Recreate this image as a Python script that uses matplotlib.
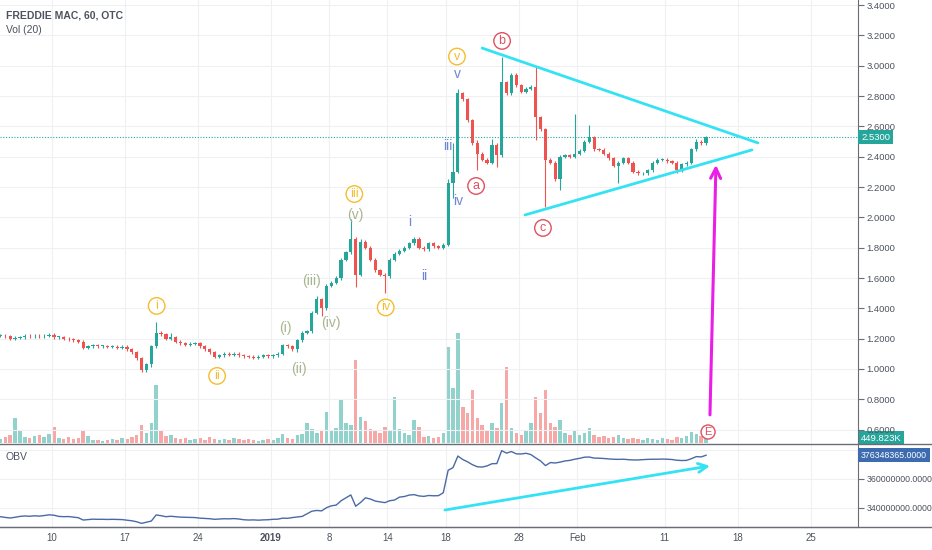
import matplotlib.pyplot as plt
import matplotlib.transforms as mtransforms
from matplotlib.lines import Line2D
import numpy as np

plt.rcParams['font.family'] = ['Liberation Sans', 'DejaVu Sans']

# bars every third of a trading day, day 0 = Dec 10 2018
bar_start = -3.5
bar_step = 1 / 3

closes = [
    1.22, 1.215, 1.20, 1.205, 1.21, 1.22, 1.215, 1.22, 1.215, 1.22,
    1.225, 1.21, 1.21, 1.20, 1.195, 1.19, 1.18, 1.14, 1.15, 1.155,
    1.15, 1.15, 1.145, 1.145, 1.14, 1.145, 1.13, 1.11, 1.07, 0.99,
    1.03, 1.15, 1.24, 1.23, 1.20, 1.21, 1.18, 1.17, 1.16, 1.165,
    1.17, 1.15, 1.13, 1.11, 1.08, 1.09, 1.10, 1.095, 1.10, 1.09,
    1.085, 1.08, 1.075, 1.08, 1.09, 1.085, 1.09, 1.10, 1.155, 1.15,
    1.13, 1.19, 1.24, 1.25, 1.37, 1.46, 1.40, 1.55, 1.57, 1.60,
    1.72, 1.77, 1.86, 1.62, 1.84, 1.80, 1.72, 1.65, 1.62, 1.61,
    1.72, 1.76, 1.78, 1.80, 1.83, 1.86, 1.80, 1.79, 1.83, 1.81,
    1.80, 1.82, 2.23, 2.30, 2.82, 2.78, 2.64, 2.49, 2.42, 2.38,
    2.36, 2.48, 2.41, 2.89, 2.82, 2.94, 2.87, 2.83, 2.85, 2.86,
    2.66, 2.58, 2.38, 2.36, 2.25, 2.40, 2.41, 2.40, 2.42, 2.44,
    2.50, 2.53, 2.45, 2.445, 2.42, 2.39, 2.34, 2.36, 2.39, 2.36,
    2.30, 2.29, 2.29, 2.31, 2.36, 2.38, 2.38, 2.37, 2.36, 2.31,
    2.35, 2.36, 2.45, 2.50, 2.49, 2.53,
]

upper_wick = [
    0.01, 0.01, 0.01, 0.01, 0.01, 0.01, 0.01, 0.01, 0.01, 0.01,
    0.01, 0.01, 0.01, 0.01, 0.01, 0.01, 0.01, 0.01, 0.01, 0.01,
    0.01, 0.01, 0.01, 0.01, 0.01, 0.01, 0.01, 0.01, 0.01, 0.01,
    0.01, 0.01, 0.07, 0.01, 0.01, 0.03, 0.01, 0.01, 0.01, 0.01,
    0.01, 0.01, 0.01, 0.01, 0.01, 0.01, 0.01, 0.01, 0.01, 0.01,
    0.01, 0.01, 0.01, 0.01, 0.01, 0.01, 0.01, 0.01, 0.01, 0.01,
    0.01, 0.01, 0.01, 0.01, 0.01, 0.02, 0.01, 0.01, 0.01, 0.01,
    0.01, 0.01, 0.13, 0.01, 0.02, 0.01, 0.01, 0.01, 0.01, 0.01,
    0.01, 0.01, 0.01, 0.01, 0.01, 0.01, 0.01, 0.01, 0.01, 0.01,
    0.01, 0.01, 0.02, 0.19, 0.03, 0.01, 0.01, 0.01, 0.02, 0.01,
    0.01, 0.04, 0.01, 0.17, 0.01, 0.01, 0.01, 0.01, 0.01, 0.01,
    0.13, 0.01, 0.01, 0.01, 0.01, 0.01, 0.01, 0.01, 0.26, 0.01,
    0.01, 0.08, 0.01, 0.01, 0.01, 0.01, 0.01, 0.01, 0.01, 0.01,
    0.01, 0.01, 0.01, 0.01, 0.01, 0.01, 0.01, 0.01, 0.01, 0.01,
    0.01, 0.01, 0.01, 0.02, 0.01, 0.01,
]

lower_wick = [
    0.01, 0.01, 0.01, 0.01, 0.01, 0.01, 0.01, 0.01, 0.01, 0.01,
    0.01, 0.01, 0.01, 0.01, 0.01, 0.01, 0.01, 0.01, 0.01, 0.01,
    0.01, 0.01, 0.01, 0.01, 0.01, 0.01, 0.01, 0.01, 0.01, 0.01,
    0.01, 0.02, 0.01, 0.01, 0.01, 0.01, 0.01, 0.01, 0.01, 0.01,
    0.01, 0.01, 0.01, 0.01, 0.01, 0.01, 0.01, 0.01, 0.01, 0.01,
    0.01, 0.01, 0.01, 0.01, 0.01, 0.01, 0.01, 0.01, 0.01, 0.01,
    0.01, 0.02, 0.01, 0.01, 0.01, 0.01, 0.05, 0.01, 0.01, 0.01,
    0.01, 0.01, 0.01, 0.08, 0.01, 0.01, 0.01, 0.01, 0.01, 0.11,
    0.01, 0.01, 0.01, 0.01, 0.01, 0.01, 0.01, 0.01, 0.01, 0.01,
    0.01, 0.01, 0.01, 0.10, 0.01, 0.01, 0.01, 0.01, 0.11, 0.01,
    0.01, 0.01, 0.08, 0.01, 0.01, 0.01, 0.01, 0.01, 0.01, 0.01,
    0.15, 0.01, 0.31, 0.01, 0.01, 0.07, 0.01, 0.01, 0.01, 0.01,
    0.01, 0.01, 0.01, 0.01, 0.01, 0.01, 0.01, 0.11, 0.01, 0.01,
    0.01, 0.01, 0.01, 0.01, 0.01, 0.01, 0.01, 0.01, 0.01, 0.02,
    0.01, 0.01, 0.01, 0.01, 0.01, 0.01,
]

# volume in thousands of shares
volume_k = [
    360, 540, 720, 2250, 1080, 540, 450, 630, 720, 540,
    810, 1440, 450, 360, 540, 360, 450, 1170, 630, 270,
    270, 180, 270, 360, 270, 450, 360, 540, 720, 1620,
    900, 1800, 5220, 1080, 630, 720, 450, 360, 450, 270,
    360, 450, 270, 540, 360, 270, 360, 270, 450, 360,
    270, 360, 270, 180, 270, 360, 270, 450, 810, 450,
    360, 720, 810, 1800, 1260, 900, 1080, 2790, 1080, 1350,
    3870, 1800, 1620, 7470, 2340, 1980, 1260, 1080, 900, 1440,
    1080, 4140, 1260, 900, 720, 2070, 1440, 540, 630, 450,
    540, 900, 8640, 4950, 9900, 3240, 2700, 4770, 2250, 1620,
    1080, 1800, 1350, 3600, 6840, 1350, 900, 720, 1080, 1800,
    4140, 2700, 4770, 1800, 1440, 2070, 900, 720, 1080, 720,
    900, 1350, 720, 540, 630, 450, 540, 720, 450, 360,
    450, 360, 270, 450, 360, 270, 450, 360, 270, 540,
    450, 630, 990, 810, 630, 449.823,
]

# on balance volume in millions
obv_m = [
    334.0, 333.5, 333.1, 333.6, 334.2, 334.5, 334.3, 334.6, 334.4, 334.8,
    335.3, 335.0, 334.2, 334.0, 334.1, 333.7, 333.3, 331.7, 332.0, 332.3,
    332.2, 332.2, 332.1, 332.2, 332.1, 332.0, 331.6, 331.2, 330.5, 329.4,
    330.2, 331.0, 335.2, 334.7, 334.0, 334.3, 334.0, 333.7, 333.6, 333.5,
    333.4, 333.0, 332.8, 332.6, 332.2, 332.4, 332.6, 332.5, 332.7, 332.4,
    331.9, 331.7, 331.8, 331.6, 331.8, 331.9, 332.2, 332.3, 333.0, 332.9,
    333.4, 333.8, 334.2, 336.0, 337.8, 338.3, 338.0, 340.2, 341.5, 342.0,
    345.0, 347.0, 349.0, 341.2, 343.8, 347.0, 346.2, 344.8, 344.2, 343.7,
    345.0, 345.5, 347.5, 347.9, 348.9, 349.2, 348.3, 348.0, 348.6, 348.4,
    348.5, 350.5, 366.0, 367.8, 375.8, 373.4, 371.8, 369.8, 368.4, 368.2,
    369.0, 370.5, 370.6, 379.5, 377.8, 378.9, 377.3, 377.2, 377.7, 376.8,
    374.5, 372.4, 369.2, 371.3, 371.0, 371.6, 372.4, 372.8, 373.6, 374.2,
    375.0, 375.1, 374.4, 374.3, 374.1, 373.8, 373.6, 373.5, 373.6, 373.3,
    373.1, 373.1, 373.3, 373.5, 373.6, 373.6, 373.7, 373.6, 373.4, 372.9,
    372.7, 372.8, 374.0, 375.4, 375.2, 376.348365,
]

price_ticks = [0.6, 0.8, 1.0, 1.2, 1.4, 1.6, 1.8, 2.0, 2.2, 2.4, 2.6, 2.8, 3.0, 3.2, 3.4]
obv_ticks = [340, 360]
obv_grid = [340, 360, 380]
date_pos = [0, 5, 10, 15, 19, 23, 27, 32, 36, 42, 47, 52]
date_labels = ['10', '17', '24', '2019', '8', '14', '18', '28', 'Feb', '11', '18', '25']

GREEN = '#26a69a'
RED = '#ef5350'
GRID = '#eef0f4'
TXT = '#4c525e'
AXL = '#6a6d78'
CYAN = '#33e3f3'
MAGENTA = '#ea1ee6'
YELLOW = '#f5bd2e'
OLIVE = '#a7b58f'
BLUE = '#6f86d6'
WRED = '#e0505f'

closes = np.array(closes)
opens = np.r_[closes[0], closes[:-1]]
highs = np.maximum(opens, closes) + np.array(upper_wick)
lows = np.minimum(opens, closes) - np.array(lower_wick)
x = bar_start + bar_step * np.arange(len(closes))
up = closes >= opens
colors = np.where(up, GREEN, RED)

fig = plt.figure(figsize=(9.32, 5.5), dpi=100)
rect_main = [0, 1 - 443 / 550, 858 / 932, 443 / 550]
rect_obv = [0, 1 - 527 / 550, 858 / 932, 82 / 550]
xlim = (-3.53, 55.24)

# volume pane (underneath the candles)
vax = fig.add_axes(rect_main)
vax.bar(x, volume_k, width=0.24, color=colors, alpha=0.5, linewidth=0)
vax.set_xlim(*xlim)
vax.set_ylim(0, 39870)
vax.axis('off')

ax = fig.add_axes(rect_main)
ax.patch.set_visible(False)
ax.set_xlim(*xlim)
ax.set_ylim(0.5115, 3.434)
for t in price_ticks:
    ax.axhline(t, color=GRID, lw=0.8, zorder=0)
for d in date_pos:
    ax.axvline(d, color=GRID, lw=0.8, zorder=0)

body = np.maximum(np.abs(closes - opens), 0.005)
ax.vlines(x, lows, highs, colors=colors, lw=0.8, zorder=2)
ax.bar(x, body, bottom=np.minimum(opens, closes), width=0.22, color=colors, linewidth=0, zorder=3)
ax.axhline(closes[-1], color=GREEN, ls=(0, (1, 1.5)), lw=0.8, zorder=1)

ax.yaxis.tick_right()
ax.set_yticks(price_ticks, [f'{t:.4f}' for t in price_ticks])
ax.tick_params(axis='y', direction='out', length=4, color=AXL, labelsize=6.8,
               labelcolor=TXT, pad=2)
ax.set_xticks([])
for s in ['left', 'top', 'bottom']:
    ax.spines[s].set_visible(False)
ax.spines['right'].set_color(AXL)

# triangle and arrow drawings
ax.plot([29.49, 48.39], [3.117, 2.491], color=CYAN, lw=2, solid_capstyle='round', zorder=5)
ax.plot([32.43, 47.98], [2.016, 2.445], color=CYAN, lw=2, solid_capstyle='round', zorder=5)
ax.annotate('', xy=(45.51, 2.346), xytext=(45.1, 0.697),
            arrowprops=dict(arrowstyle='->', color=MAGENTA, lw=2.2, mutation_scale=18,
                            shrinkA=0, shrinkB=0), zorder=5)


def wave(axis, xv, yv, s, color, circle=False, size=9):
    kw = dict(ha='center', va='center', color=color, fontsize=size, zorder=6)
    if circle:
        kw['bbox'] = dict(boxstyle='circle,pad=0.18', fc='white', ec=color, lw=1)
    axis.text(xv, yv, s, **kw)


wave(ax, 7.2, 1.416, 'i', YELLOW, True)
wave(ax, 11.34, 0.954, 'ii', YELLOW, True)
wave(ax, 20.74, 2.154, 'iii', YELLOW, True)
wave(ax, 22.89, 1.406, 'iv', YELLOW, True)
wave(ax, 27.77, 3.061, 'v', YELLOW, True)
wave(ax, 15.99, 1.270, '(i)', OLIVE, size=10)
wave(ax, 16.95, 1.000, '(ii)', OLIVE, size=10)
wave(ax, 17.82, 1.580, '(iii)', OLIVE, size=10)
wave(ax, 19.14, 1.303, '(iv)', OLIVE, size=10)
wave(ax, 20.79, 2.016, '(v)', OLIVE, size=10)
wave(ax, 24.55, 1.970, 'i', BLUE, size=10)
wave(ax, 25.51, 1.613, 'ii', BLUE, size=10)
wave(ax, 27.16, 2.471, 'iii', BLUE, size=10)
wave(ax, 27.84, 2.108, 'iv', BLUE, size=10)
wave(ax, 27.77, 2.946, 'v', BLUE, size=10)
wave(ax, 29.08, 2.207, 'a', WRED, True)
wave(ax, 30.86, 3.164, 'b', WRED, True)
wave(ax, 33.66, 1.930, 'c', WRED, True)
wave(ax, 44.97, 0.584, 'E', WRED, True, size=8)

# OBV pane
obv = fig.add_axes(rect_obv)
obv.set_xlim(*xlim)
obv.set_ylim(326.9, 383.4)
for t in obv_grid:
    obv.axhline(t, color=GRID, lw=0.8, zorder=0)
for d in date_pos:
    obv.axvline(d, color=GRID, lw=0.8, zorder=0)
obv.plot(x, obv_m, color='#4a6aa5', lw=1, zorder=2)
obv.annotate('', xy=(45.1, 369.0), xytext=(26.95, 338.6),
             arrowprops=dict(arrowstyle='->', color=CYAN, lw=2, mutation_scale=16,
                             shrinkA=0, shrinkB=0), zorder=5)
obv.yaxis.tick_right()
obv.set_yticks(obv_ticks, [f'{t * 1e6:.4f}' for t in obv_ticks])
obv.tick_params(axis='y', direction='out', length=4, color=AXL, labelsize=6.3,
                labelcolor=TXT, pad=2)
obv.set_xticks(date_pos, date_labels)
obv.tick_params(axis='x', length=0, labelsize=7, labelcolor=TXT, pad=4)
obv.get_xticklabels()[3].set_fontweight('bold')
for s in ['left', 'top']:
    obv.spines[s].set_visible(False)
obv.spines['right'].set_color(AXL)
obv.spines['bottom'].set_color(AXL)

# pane separators across the full width
fig.add_artist(Line2D([0, 1], [1 - 444 / 550] * 2, color=AXL, lw=1))
fig.add_artist(Line2D([0, 1], [1 - 527 / 550] * 2, color=AXL, lw=1))


def tag(axis, value, s, fc, size=6.8):
    tr = mtransforms.blended_transform_factory(axis.transAxes, axis.transData)
    tr = mtransforms.offset_copy(tr, fig=fig, x=3, y=0, units='dots')
    axis.text(1.0, value, s, transform=tr, ha='left', va='center', color='white',
              fontsize=size, zorder=10, clip_on=False,
              bbox=dict(boxstyle='square,pad=0.3', fc=fc, ec='none'))


tag(ax, closes[-1], f'{closes[-1]:.4f}', GREEN)
tag(vax, volume_k[-1], f'{volume_k[-1]:.3f}K', GREEN)
tag(obv, obv_m[-1], f'{obv_m[-1] * 1e6:.4f}', '#3d6bb0', size=6.3)

fig.text(6 / 932, 1 - 15 / 550, 'FREDDIE MAC, 60, OTC', fontsize=7.5, fontweight='bold',
         color=TXT, va='center')
fig.text(6 / 932, 1 - 30 / 550, 'Vol (20)', fontsize=7.5, color=TXT, va='center')
fig.text(6 / 932, 1 - 457 / 550, 'OBV', fontsize=7.5, color=TXT, va='center')

fig.savefig('out.png', dpi=100)
